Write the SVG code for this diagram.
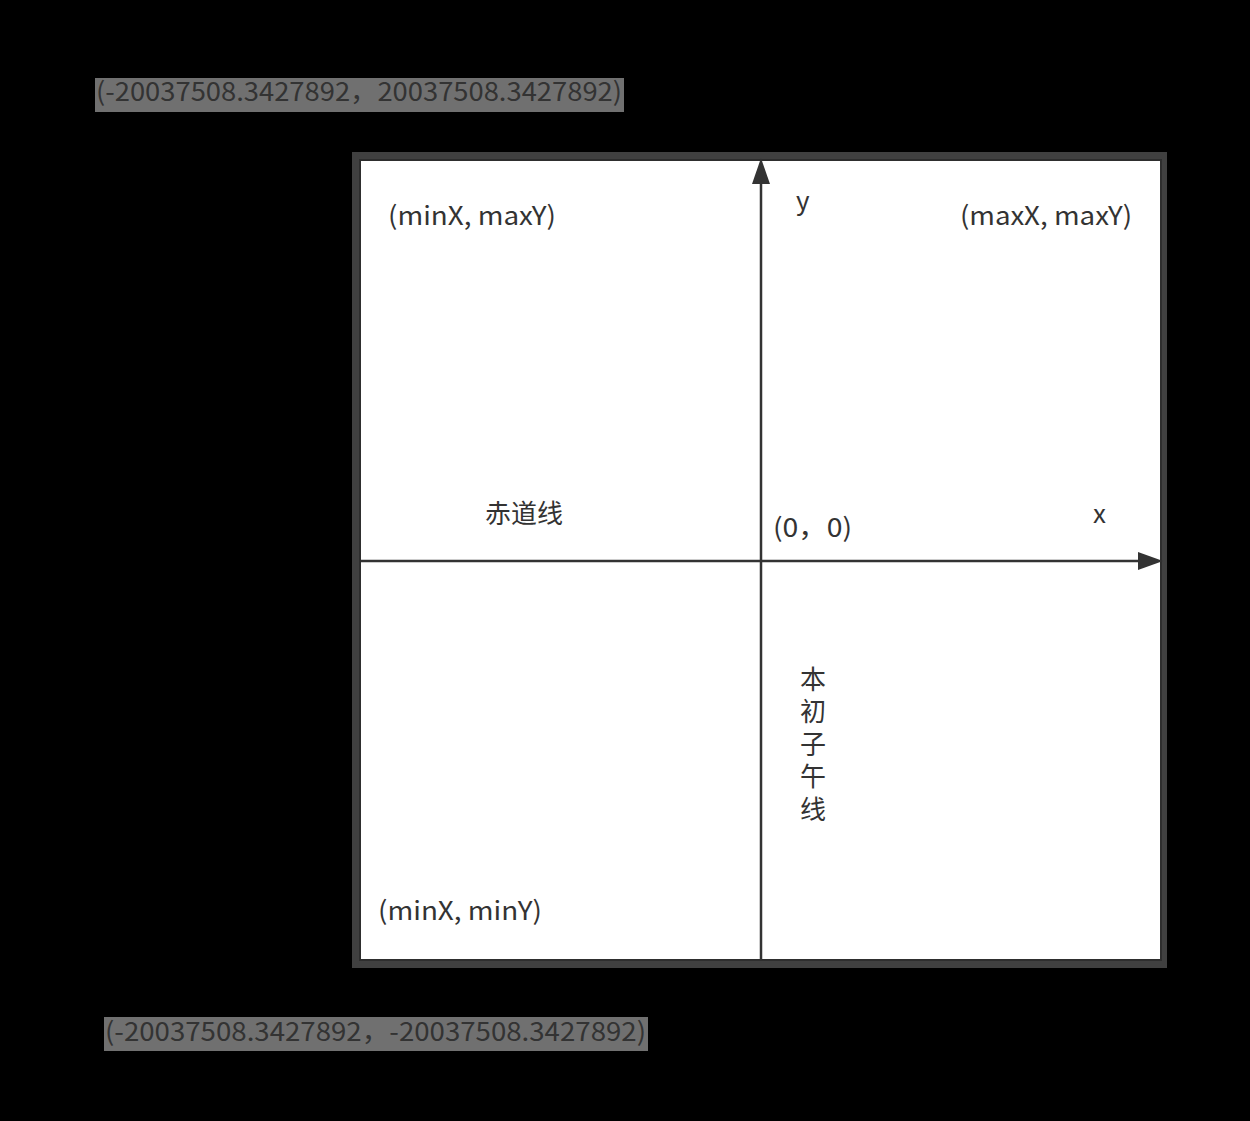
<svg xmlns="http://www.w3.org/2000/svg" width="1250" height="1121" viewBox="0 0 1250 1121">
<defs>
<style>
.t{font-family:"Noto Sans CJK SC","Noto Sans",sans-serif;font-size:26px;fill:#333333}
.ax{stroke:#333333;stroke-width:2.5;fill:none}
.lbl{fill:#707070}
</style>
</defs>
<rect width="1250" height="1121" fill="#000000"/>
<g id="label-top">
<rect class="lbl" x="95" y="78" width="529" height="34"/>
<text class="t" x="96" y="101" textLength="526" lengthAdjust="spacingAndGlyphs">(-20037508.3427892，20037508.3427892)</text>
</g>
<g id="label-bottom">
<rect class="lbl" x="104" y="1017" width="544" height="34"/>
<text class="t" x="105" y="1041" textLength="541" lengthAdjust="spacingAndGlyphs">(-20037508.3427892，-20037508.3427892)</text>
</g>
<g id="frame">
<rect x="352" y="152" width="815" height="816" fill="#404040"/>
<rect x="359" y="159" width="803" height="802" fill="#2e2e2e"/>
<rect x="361" y="161" width="799" height="798" fill="#ffffff"/>
</g>
<g id="connectors">
<line class="ax" x1="761" y1="960" x2="761" y2="184"/>
<path d="M761,158 L770,184 L752,184 Z" fill="#333333"/>
<line class="ax" x1="361" y1="561" x2="1138" y2="561"/>
<path d="M1163,561 L1138,570 L1138,552 Z" fill="#333333"/>
</g>
<g id="texts">
<text class="t" x="388" y="225" textLength="168" lengthAdjust="spacingAndGlyphs">(minX, maxY)</text>
<text class="t" x="960" y="225" textLength="172" lengthAdjust="spacingAndGlyphs">(maxX, maxY)</text>
<text class="t" x="378" y="920" textLength="164" lengthAdjust="spacingAndGlyphs">(minX, minY)</text>
<text class="t" x="796" y="210">y</text>
<text class="t" x="1093" y="523">x</text>
<text class="t" x="773" y="537" textLength="79" lengthAdjust="spacingAndGlyphs">(0，0)</text>
<text class="t" x="485" y="523">赤道线</text>
<text class="t" x="813" y="666" style="writing-mode:vertical-rl;letter-spacing:6.5px">本初子午线</text>
</g>
</svg>
